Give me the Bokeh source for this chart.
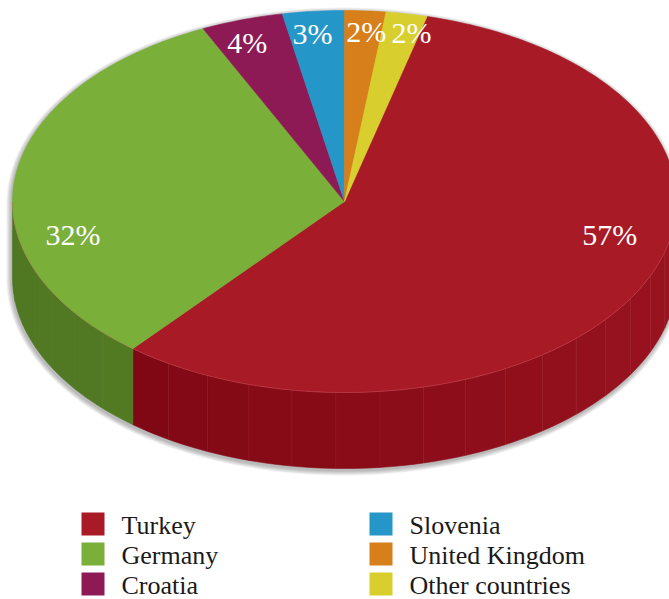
import numpy as np
from bokeh.plotting import figure
from bokeh.models import Range1d, ColumnDataSource
from bokeh.core.properties import value
from bokeh.embed import file_html
from bokeh.resources import INLINE

# ---------------- data ----------------
categories = ["Turkey", "Germany", "Croatia", "Slovenia", "United Kingdom", "Other countries"]
shares = [57, 32, 4, 3, 2, 2]
top_colors = ["#a91a27", "#7aaf3a", "#8e1a55", "#2596c8", "#d77f1a", "#d8cf2e"]
side_light = ["#9d1521", "#5a842a", "#7a1548", "#1f80ab", "#b86c15", "#b9b126"]
side_dark = ["#74030f", "#4f7621", "#5e0e37", "#176585", "#905410", "#918a1d"]
side_seams = [True, False, False, False, False, False]

# ---------------- layout ----------------
CX, CY, RX, RY, DEPTH = 344.0, 201.0, 332.0, 191.0, 76.0
LABEL_R = 0.9
label_nudge = [(-1, -47), (25, 53), (-5, 2), (-4, 1), (3, 0), (11, -2)]
TEXT_SHIFT = -8
FONT = "Liberation Serif"
W, H = 669, 599

total = float(sum(shares))
spans = [360.0 * s / total for s in shares]
cum = np.concatenate([[0.0], np.cumsum(spans)])
# rotate so that the United Kingdom slice begins at 12 o'clock (clockwise order)
offset = -cum[categories.index("United Kingdom")]
starts = [(cum[i] + offset) % 360.0 for i in range(len(shares))]
ends = [starts[i] + spans[i] for i in range(len(shares))]


def ell(theta_deg, dy=0.0, rx=RX, ry=RY):
    t = np.radians(np.asarray(theta_deg, dtype=float))
    return CX + rx * np.sin(t), CY - ry * np.cos(t) + dy


def mix(c1, c2, f):
    a = [int(c1[i:i + 2], 16) for i in (1, 3, 5)]
    b = [int(c2[i:i + 2], 16) for i in (1, 3, 5)]
    m = [round(a[k] * (1 - f) + b[k] * f) for k in range(3)]
    return "#%02x%02x%02x" % tuple(m)


p = figure(width=W, height=H, x_range=Range1d(0, W), y_range=Range1d(H, 0),
           output_backend="svg", toolbar_location=None, min_border=0,
           x_axis_location=None, y_axis_location=None)
p.grid.visible = False
p.outline_line_color = None
p.background_fill_color = "white"
p.border_fill_color = "white"

# ---------------- soft shadow ----------------
sh_xs, sh_ys = [], []
for k in range(1, 6):
    ta = np.linspace(-90, 90, 120)
    tb = np.linspace(90, 270, 120)
    x1, y1 = ell(ta, 0, RX + k, RY + k)
    x2, y2 = ell(tb, DEPTH, RX + k, RY + k)
    sh_xs.append(list(np.concatenate([x1, x2]) - 1))
    sh_ys.append(list(np.concatenate([y1, y2]) + 2))
p.patches(sh_xs, sh_ys, fill_color="black", fill_alpha=0.06, line_color=None)

# ---------------- sides ----------------
sx, sy, sc = [], [], []
seg = {"x0": [], "y0": [], "x1": [], "y1": []}
for i in range(len(shares)):
    for shift in (0.0, 360.0, -360.0):
        a0, a1 = starts[i] + shift, ends[i] + shift
        lo, hi = max(a0, 90.0), min(a1, 270.0)
        if lo >= hi:
            continue
        n = int(np.ceil((hi - lo) / 8.0))
        edges = np.linspace(lo, hi, n + 1)
        for j in range(n):
            t = np.linspace(edges[j], edges[j + 1], 6)
            xt, yt = ell(t)
            xb, yb = ell(t[::-1], DEPTH)
            sx.append(list(np.concatenate([xt, xb])))
            sy.append(list(np.concatenate([yt, yb])))
            f = ((edges[j] + edges[j + 1]) / 2 - 90.0) / 180.0
            sc.append(mix(side_light[i], side_dark[i], f))
            if j > 0 and side_seams[i]:
                xe, ye = ell(edges[j])
                seg["x0"].append(float(xe)); seg["y0"].append(float(ye))
                seg["x1"].append(float(xe)); seg["y1"].append(float(ye) + DEPTH)
p.patches(sx, sy, fill_color=sc, line_color=sc, line_width=0.6)
p.segment(x0="x0", y0="y0", x1="x1", y1="y1", source=ColumnDataSource(seg),
          line_color="#c04a55", line_alpha=0.3, line_width=0.7)

# ---------------- top faces ----------------
tx, ty = [], []
for i in range(len(shares)):
    n = max(3, int(spans[i]) + 2)
    t = np.linspace(starts[i], ends[i], n)
    x, y = ell(t)
    tx.append([CX] + list(x))
    ty.append([CY] + list(y))
p.patches(tx, ty, fill_color=top_colors, line_color=top_colors, line_width=0.6)

# rim highlight
rt = np.linspace(90, 270, 200)
rx_, ry_ = ell(rt)
p.line(rx_, ry_, line_color="#d86a74", line_alpha=0.4, line_width=0.8)

# ---------------- percentage labels ----------------
lx, ly, lt = [], [], []
for i in range(len(shares)):
    mid = (starts[i] + ends[i]) / 2.0
    x, y = ell(mid, 0, RX * LABEL_R, RY * LABEL_R)
    lx.append(float(x) + label_nudge[i][0])
    ly.append(float(y) + 10 + label_nudge[i][1] + TEXT_SHIFT)
    lt.append(f"{shares[i]}%")
p.text(x=lx, y=ly, text=lt, text_color="white", text_font=value(FONT),
       text_font_size="30px", text_align="center", text_baseline="alphabetic")

# ---------------- legend ----------------
col_x = [81, 369]
row_y0, row_dy, box = 512, 30, 23
lqx0, lqx1, lqy0, lqy1, ltx, lty, ltt, lcol = [], [], [], [], [], [], [], []
for i, name in enumerate(categories):
    c, r = divmod(i, 3)
    y0 = row_y0 + r * row_dy
    lqx0.append(col_x[c]); lqx1.append(col_x[c] + box)
    lqy0.append(y0); lqy1.append(y0 + box)
    ltx.append(col_x[c] + 40); lty.append(y0 + 20 + TEXT_SHIFT + 1)
    ltt.append(name); lcol.append(top_colors[i])
p.quad(left=lqx0, right=lqx1, top=lqy0, bottom=lqy1, fill_color=lcol, line_color=None)
p.text(x=ltx, y=lty, text=ltt, text_color="#1a1a1a", text_font=value(FONT),
       text_font_size="26px", text_align="left", text_baseline="alphabetic")

open("out.html", "w").write(file_html(p, INLINE))
